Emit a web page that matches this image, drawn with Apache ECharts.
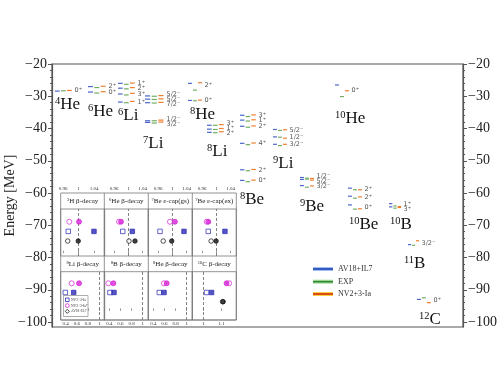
<!DOCTYPE html>
<html><head><meta charset="utf-8">
<script src="https://cdn.jsdelivr.net/npm/echarts@6/dist/echarts.min.js"></script>
<style>html,body{margin:0;padding:0;background:#fff}#c{width:500px;height:375px}</style>
</head><body><div id="c"></div>
<script>
// ================= DATA =================
const nuclei       = ['4He','6He','6Li','7Li','8He','8Li','8Be','9Li','9Be','10He','10Be','10B','11B','12C'];
const massNumbers  = ['4','6','6','7','8','8','8','9','9','10','10','10','11','12'];
const elements     = ['He','He','Li','Li','He','Li','Be','Li','Be','He','Be','B','B','C'];

const levelNucleus = ['4He','6He','6He','6Li','6Li','6Li','6Li','7Li','7Li','7Li','7Li','7Li','8He','8He',
  '8Li','8Li','8Li','8Be','8Be','8Be','8Be','8Be','8Be','9Li','9Li','9Li','9Be','9Be','9Be','10He',
  '10Be','10Be','10Be','10B','10B','11B','12C'];
const levelSpin = ['0+','2+','0+','1+','2+','3+','1+','5/2-','5/2-','7/2-','1/2-','3/2-','2+','0+',
  '3+','1+','2+','3+','1+','2+','4+','2+','0+','5/2-','1/2-','3/2-','1/2-','5/2-','3/2-','0+',
  '2+','2+','0+','1+','3+','3/2-','0+'];
const levelAV18 = [-28.4,-27.0,-28.7,-26.0,-27.5,-29.3,-31.8,-29.9,-30.9,-32.0,-37.6,-38.1,-26.0,-31.3,
  -39.0,-40.2,-41.2,-35.9,-37.4,-39.3,-44.6,-52.8,-56.1,-40.3,-42.6,-44.9,-55.2,-55.8,-57.7,-26.5,
  -58.5,-61.0,-63.7,-63.3,-64.3,-76.0,-93.0];
const levelEXP  = [-28.3,-27.3,-29.0,-26.3,-27.7,-29.6,-32.0,-30.0,-31.0,-32.1,-37.6,-38.3,-28.1,-31.4,
  -39.0,-40.3,-41.3,-36.3,-37.7,-39.6,-45.0,-53.1,-56.5,-40.6,-42.7,-45.3,-55.4,-55.7,-58.2,-30.1,
  -59.0,-61.6,-65.0,-64.0,-64.7,-76.2,-92.5];
const levelNV2  = [-28.2,-26.9,-28.6,-25.9,-27.3,-29.1,-31.6,-29.8,-30.8,-31.9,-37.4,-38.0,-25.8,-31.2,
  -38.8,-40.0,-41.0,-35.8,-37.3,-39.2,-44.5,-52.7,-56.0,-40.4,-43.0,-44.9,-55.5,-56.0,-57.8,-28.3,
  -59.0,-61.2,-64.9,-64.2,-64.5,-74.8,-94.0];

const yTicks = [-100,-90,-80,-70,-60,-50,-40,-30,-20];
const modelNames = ['AV18+IL7','EXP','NV2+3-Ia'];

// inset (Gamow-Teller matrix element ratios)
const decayMass  = ['3','6','7','7','8','8','8','10'];
const decayText  = ['H β-decay','He β-decay','Be ε-cap(gs)','Be ε-cap(ex)','Li β-decay','B β-decay','He β-decay','C β-decay'];
const nv2Open    = [0.9735,0.984,0.965,0.977,0.393,0.412,0.507,1.018];
const nv2Full    = [1.0395,1.011,1.0326,1.024,0.543,0.484,0.592,1.045];
const nv2sOpen   = [0.976,0.9734,0.993,0.9726,0.507,0.382,0.592,1.141];
const nv2sFull   = [1.001,0.979,1.007,0.977,0.639,0.472,0.640,1.127];
const av18Open   = [0.972,1.0016,0.974,0.985,null,null,null,1.105];
const av18Full   = [0.999,1.0185,0.998,0.999,null,null,null,1.108];
const topTicks   = [0.96,1,1.04];
const botTicks   = [0.4,0.6,0.8,1];
const c10Ticks   = [1,1.1];

// ================= LAYOUT =================
const colX = [3,36,66,93,136,155,188,221,248,283,296,337,356,365];     // column start (axis units ~ px)
const colW = [18,19,18,20,15,18,17,15,15,15,15,13,12,15];
const nameAnchor = [[3,-32.6],[36,-34.8],[66,-36.0],[91,-44.7],[138,-35.7],[155,-47.2],[188,-62.0],
  [221,-50.9],[248,-64.2],[283,-36.9],[297,-69.8],[338,-69.8],[352,-81.9],[367,-99.3]];
const modelColors = ['#4a66c8','#72ad62','#f07e2c'];
const serif = "'Liberation Serif','DejaVu Serif',serif";

// ---- build level segments ----
const segData = [];
levelNucleus.forEach((nuc,i)=>{
  const c = nuclei.indexOf(nuc);
  const w = colW[c]/3;
  [levelAV18[i],levelEXP[i],levelNV2[i]].forEach((e,m)=>{
    segData.push([colX[c]+m*w, e, colX[c]+m*w+w*0.78, m]);
  });
});

// ---- spin labels with de-overlap ----
function spread(vals, gap){
  let cl = vals.map(v=>({n:1,sum:v}));
  let changed = true;
  while(changed){
    changed=false;
    for(let i=0;i<cl.length-1;i++){
      const a=cl[i], b=cl[i+1];
      const aBot = a.sum/a.n - (a.n-1)/2*gap;
      const bTop = b.sum/b.n + (b.n-1)/2*gap;
      if(aBot - bTop < gap-1e-9){ cl.splice(i,2,{n:a.n+b.n,sum:a.sum+b.sum}); changed=true; break; }
    }
  }
  const out=[]; cl.forEach(c=>{const m=c.sum/c.n; for(let k=0;k<c.n;k++) out.push(m+(c.n-1)/2*gap-k*gap);});
  return out;
}
function spinText(s){ return s.replace('+','\u207A').replace('-','\u207B'); }
const spinData = [], spinTexts = [];
nuclei.forEach((nuc,c)=>{
  const idx = levelNucleus.map((n,i)=>n===nuc?i:-1).filter(i=>i>=0);
  const means = idx.map(i=>(levelAV18[i]+levelEXP[i]+levelNV2[i])/3);
  const order = idx.map((i,k)=>k).sort((a,b)=>means[b]-means[a]);
  const pos = spread(order.map(k=>means[k]), 1.55);
  order.forEach((k,j)=>{
    spinData.push([colX[c]+colW[c]+1.5, pos[j]]);
    spinTexts.push(spinText(levelSpin[idx[k]]));
  });
});

// ================= OPTION =================
const grids = [{left:52, top:64, width:411, height:263, show:true, borderColor:'#555', borderWidth:1.2,
  containLabel:false, outerBoundsMode:'none'}];
const xAxes = [{gridIndex:0, type:'value', min:0, max:411, show:false}];
const yAxes = [];
const minorTicks = []; for(let v=-100; v<=-20; v+=2) minorTicks.push(v);
const fmt = v => String(v).replace('-','\u2212');
['left','right'].forEach(pos=>{
  yAxes.push({gridIndex:0, type:'value', position:pos, min:-101.55, max:-20,
    name: pos==='left' ? 'Energy [MeV]' : '', nameLocation:'middle', nameGap:35, nameRotate:90,
    nameMoveOverlap:false,
    nameTextStyle:{fontFamily:serif, fontSize:14, color:'#222'},
    axisLine:{show:true, lineStyle:{color:'#555', width:1.2}},
    axisTick:{show:true, customValues:yTicks, length:4, lineStyle:{color:'#555'}},
    axisLabel:{customValues:yTicks, formatter:fmt, fontFamily:serif, fontSize:14, color:'#222', margin:5},
    splitLine:{show:false}});
});
['left','right'].forEach(pos=>{
  yAxes.push({gridIndex:0, type:'value', position:pos, min:-101.55, max:-20,
    axisLine:{show:false}, axisTick:{show:true, customValues:minorTicks, length:2, lineStyle:{color:'#555'}},
    axisLabel:{show:false}, splitLine:{show:false}});
});

const series = [];
series.push({type:'custom', xAxisIndex:0, yAxisIndex:0, clip:false, silent:true,
  data:segData, encode:{x:[0,2], y:1},
  renderItem:(params, api)=>{
    const p1 = api.coord([api.value(0), api.value(1)]);
    const p2 = api.coord([api.value(2), api.value(1)]);
    return {type:'line', shape:{x1:p1[0], y1:p1[1], x2:p2[0], y2:p2[1]},
      style:{stroke:modelColors[api.value(3)], lineWidth:1.2}};
  }});
series.push({type:'custom', xAxisIndex:0, yAxisIndex:0, clip:false, silent:true,
  data:spinData, encode:{x:0, y:1},
  renderItem:(params, api)=>{
    const p = api.coord([api.value(0), api.value(1)]);
    return {type:'text', x:p[0], y:p[1], style:{text:spinTexts[params.dataIndex], fontSize:6.5,
      fontFamily:'DejaVu Sans', fill:'#555', align:'left', verticalAlign:'middle'}};
  }});
series.push({type:'custom', xAxisIndex:0, yAxisIndex:0, clip:false, silent:true,
  data:nameAnchor, encode:{x:0, y:1},
  renderItem:(params, api)=>{
    const p = api.coord([api.value(0), api.value(1)]);
    const i = params.dataIndex;
    return {type:'text', x:p[0], y:p[1], style:{
      text:'{s|'+massNumbers[i]+'}{e|'+elements[i]+'}', align:'left', verticalAlign:'middle', fill:'#111',
      rich:{s:{fontFamily:serif, fontSize:10.5, verticalAlign:'top', lineHeight:18, fill:'#111'},
            e:{fontFamily:serif, fontSize:17, lineHeight:18, fill:'#111'}}}};
  }});

// inset panels
const insetLeft = [60.7,104.3,148.3,192.3];
const panelRange = [[0.954,1.067],[0.932,1.056],[0.932,1.056],[0.932,1.056],[0.31,1.10],[0.31,1.10],[0.31,1.10],[0.94,1.18]];
const panelTicks = [topTicks,topTicks,topTicks,topTicks,botTicks,botTicks,botTicks,c10Ticks];
const BLUE='#2a2ab4', MAG='#d624d6', BLK='#111';
for(let p=0;p<8;p++){
  const gi = p+1, top = p<4;
  grids.push({left:insetLeft[p%4], top: top?209:271.7, width:44, height: top?47:48.3,
    show:true, borderColor:'#777', borderWidth:0.8, z:3, containLabel:false, outerBoundsMode:'none'});
  xAxes.push({gridIndex:gi, type:'value', min:panelRange[p][0], max:panelRange[p][1],
    position: top?'top':'bottom', offset: top?16:0, axisLine:{show:false}, splitLine:{show:false},
    axisTick:{show:true, inside:true, length:2.5, customValues:panelTicks[p], lineStyle:{color:'#555', width:0.6}},
    axisLabel:{customValues:panelTicks[p], fontSize:5, fontFamily:serif, color:'#333', margin:1.5}});
  yAxes.push({gridIndex:gi, type:'value', min: top?-0.55:-0.99, max: top?4.32:4.26, show:false});
  const yi = yAxes.length-1;
  const mk = (val,row,sym,size,fill,stroke,withLine)=>{
    const s = {type:'scatter', xAxisIndex:gi, yAxisIndex:yi, silent:true, symbol:sym, symbolSize:size,
      data: val==null?[]:[[val,row]], itemStyle:{color:fill, borderColor:stroke, borderWidth:0.9}, z:5};
    if(withLine){ s.markLine = {silent:true, symbol:'none', label:{show:false},
      lineStyle:{type:[3,2], color:'#666', width:0.8}, data:[{xAxis:1}]}; }
    return s;
  };
  series.push(mk(nv2sOpen[p],3,'circle',5,'#fff',MAG,true));
  series.push(mk(nv2sFull[p],3,'circle',5,MAG,MAG,false));
  series.push(mk(nv2Open[p],2,'rect',4.5,'#fff',BLUE,false));
  series.push(mk(nv2Full[p],2,'rect',4.5,BLUE,BLUE,false));
  series.push(mk(av18Open[p],1,'circle',4.5,'#fff',BLK,false));
  series.push(mk(av18Full[p],1,'circle',4.5,BLK,BLK,false));
}

// graphics: inset frame, titles, legends
const graphic = [];
graphic.push({type:'rect', shape:{x:60.7,y:193,width:175.6,height:127}, style:{fill:'none', stroke:'#777', lineWidth:0.8}, z:10, silent:true});
[104.3,148.3,192.3].forEach(x=>graphic.push({type:'line', shape:{x1:x,y1:193,x2:x,y2:320}, style:{stroke:'#777', lineWidth:0.8}, z:10, silent:true}));
for(let p=0;p<8;p++){
  graphic.push({type:'text', x:insetLeft[p%4]+22, y: p<4?201:264.2, z:10, silent:true,
    style:{text:'{s|'+decayMass[p]+'}{t|'+decayText[p]+'}', align:'center', verticalAlign:'middle',
      rich:{s:{fontFamily:serif, fontSize:4.5, verticalAlign:'top', lineHeight:8, fill:'#222'},
            t:{fontFamily:serif, fontSize:7, lineHeight:8, fill:'#222'}}}});
}
// inset legend
graphic.push({type:'rect', shape:{x:63.5,y:295.5,width:24.5,height:21}, style:{fill:'#fff', stroke:'#777', lineWidth:0.6}, z:20, silent:true});
const insetLeg = [['NV2+3-Ia','rect',BLUE,299.8],['NV2+3-Ia*','circle',MAG,305.6],['AV18+IL7','diamond',BLK,311.4]];
insetLeg.forEach(([t,sym,col,y])=>{
  if(sym==='rect') graphic.push({type:'rect', shape:{x:65.5,y:y-1.8,width:3.6,height:3.6}, style:{fill:'#fff',stroke:col,lineWidth:0.8}, z:21, silent:true});
  else if(sym==='circle') graphic.push({type:'circle', shape:{cx:67.3,cy:y,r:1.9}, style:{fill:'#fff',stroke:col,lineWidth:0.8}, z:21, silent:true});
  else graphic.push({type:'polygon', shape:{points:[[67.3,y-2],[69.3,y],[67.3,y+2],[65.3,y]]}, style:{fill:'#fff',stroke:col,lineWidth:0.8}, z:21, silent:true});
  graphic.push({type:'text', x:71, y:y, z:21, silent:true, style:{text:t, fontSize:3.6, fontFamily:serif, fill:'#333', verticalAlign:'middle'}});
});
// main legend
const legCols = [['#1f3fb4','#9cc0f0'],['#2f8a2f','#a8dca0'],['#d42a10','#f8d040']];
[269,281.7,294].forEach((y,i)=>{
  graphic.push({type:'line', shape:{x1:313,y1:y,x2:333,y2:y}, style:{stroke:legCols[i][1], lineWidth:4}, z:10, silent:true});
  graphic.push({type:'line', shape:{x1:313,y1:y,x2:333,y2:y}, style:{stroke:legCols[i][0], lineWidth:1.6}, z:11, silent:true});
  graphic.push({type:'text', x:338, y:y, z:11, silent:true, style:{text:modelNames[i], fontSize:8, fontFamily:serif, fill:'#333', verticalAlign:'middle'}});
});

const chart = echarts.init(document.getElementById('c'), null, {renderer:'canvas', width:500, height:375});
chart.setOption({animation:false, backgroundColor:'#fff', grid:grids, xAxis:xAxes, yAxis:yAxes, series:series, graphic:graphic});
</script></body></html>
